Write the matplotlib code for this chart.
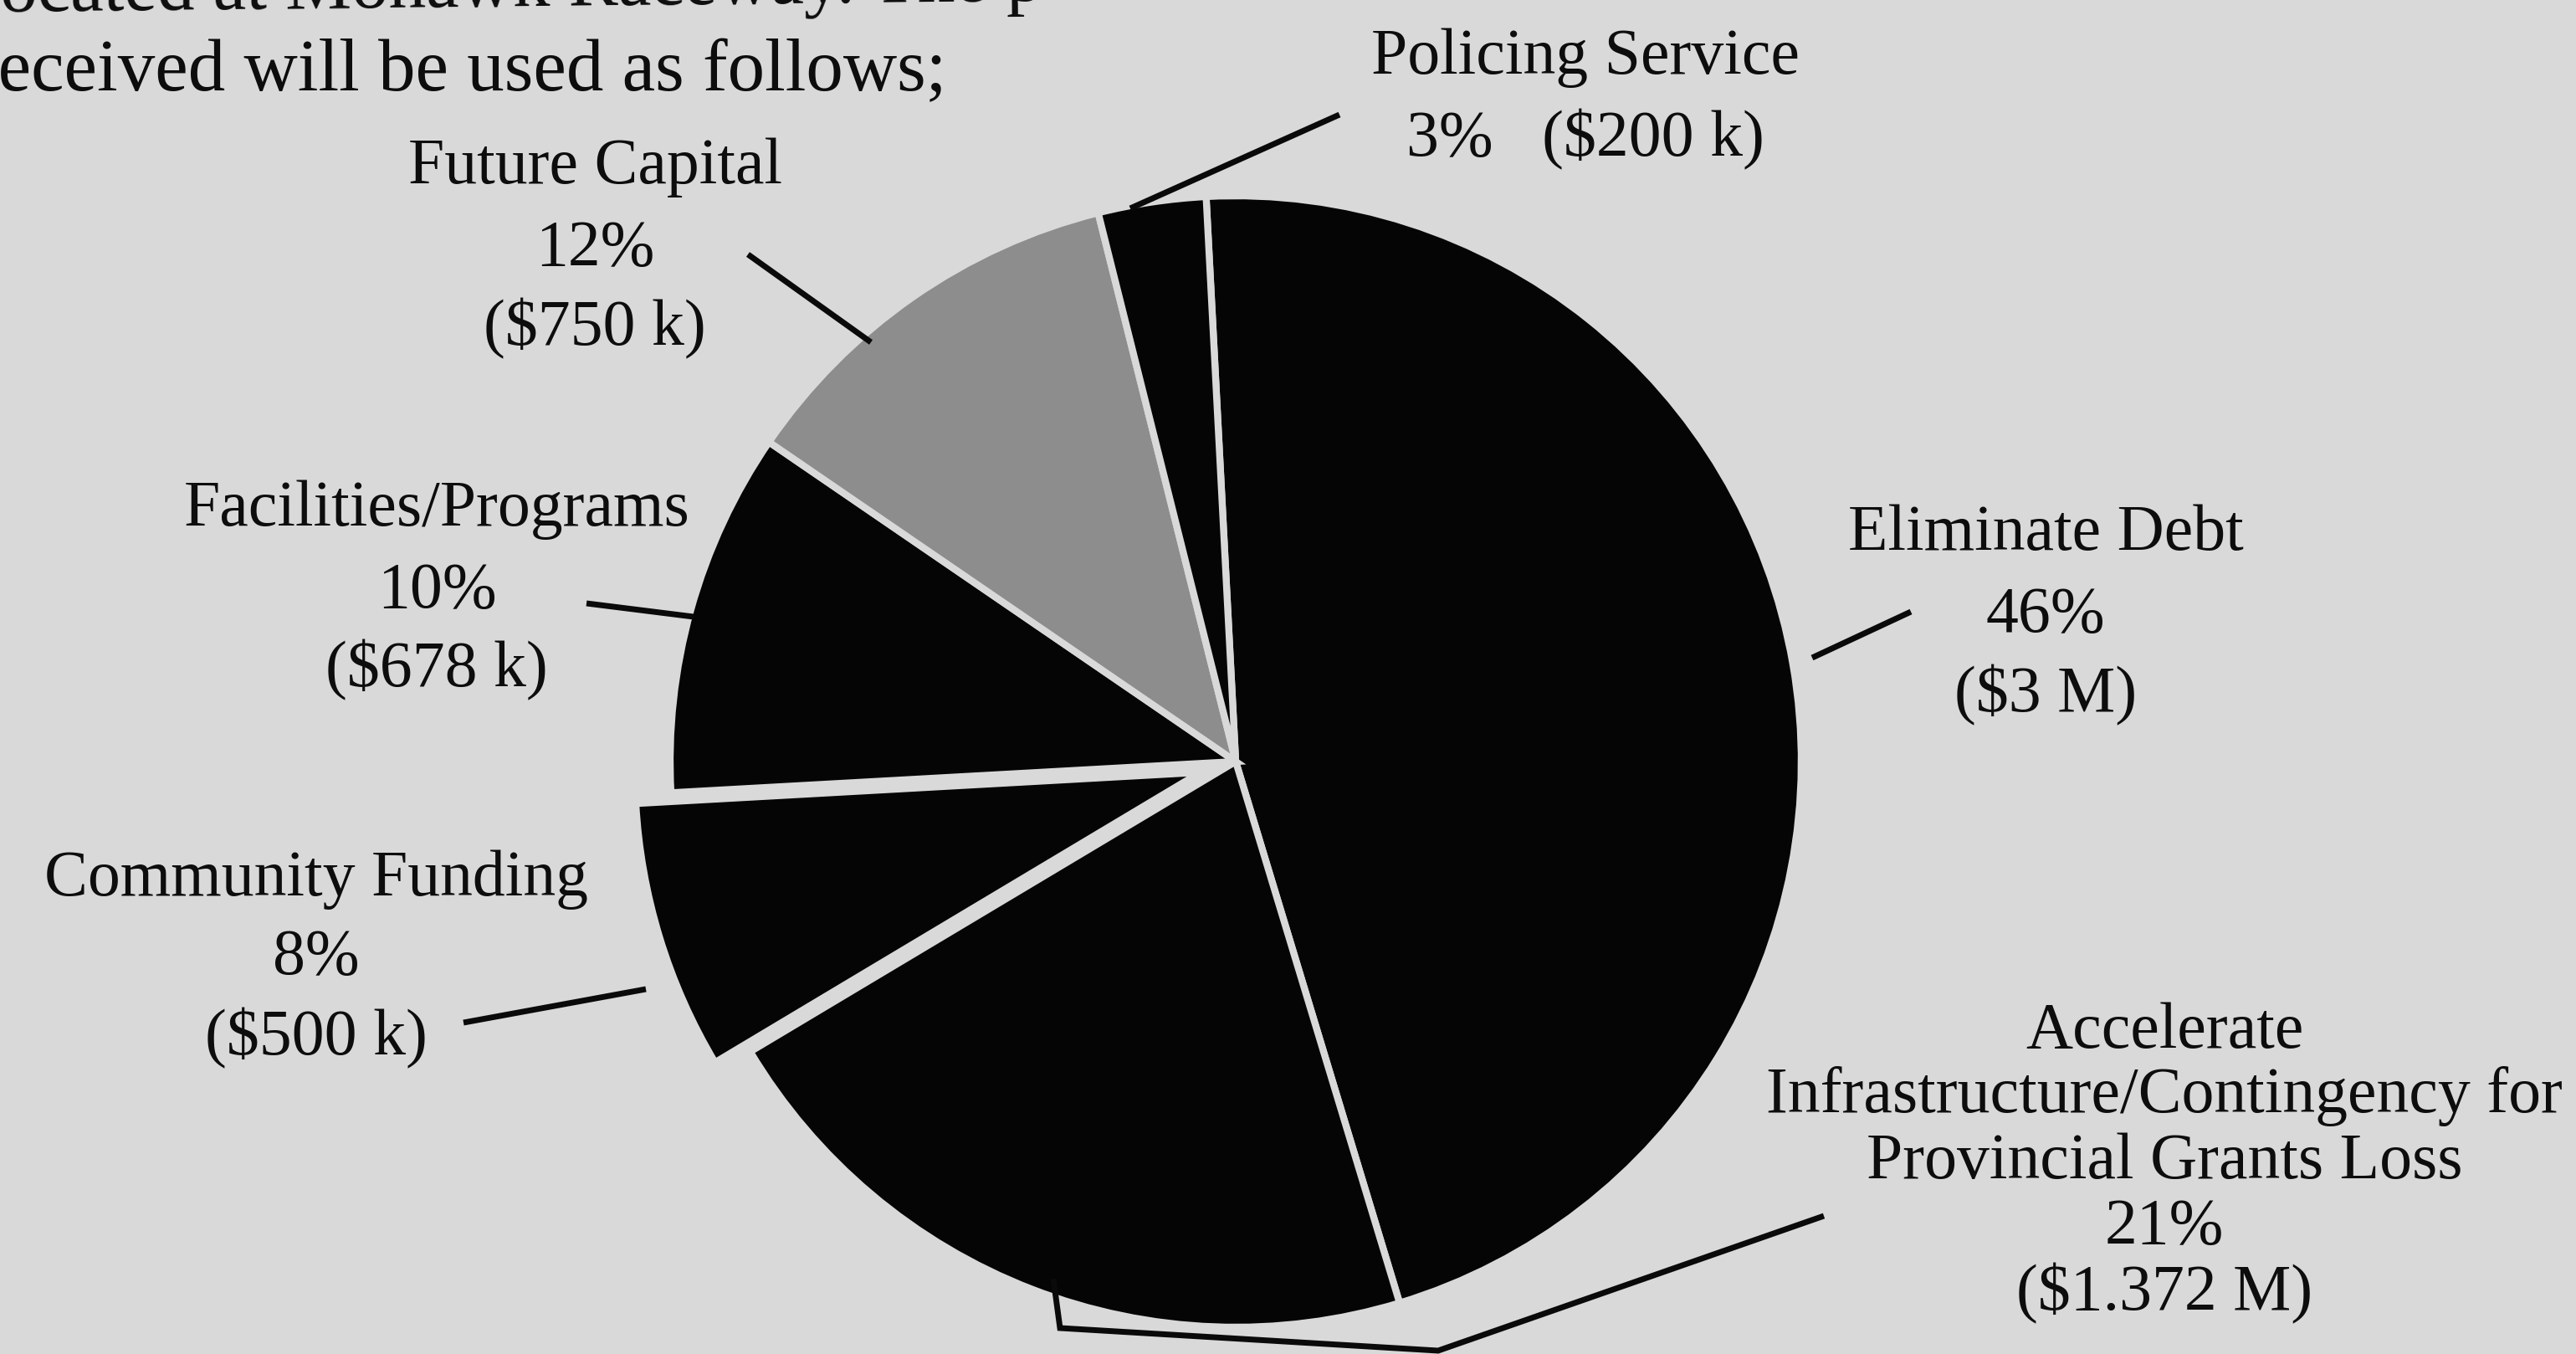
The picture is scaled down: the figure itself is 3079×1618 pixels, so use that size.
import matplotlib
matplotlib.use("Agg")
import matplotlib.pyplot as plt

W, H = 3079, 1618
BG = "#d9d9d9"

# slices, clockwise from the top (values in $k, as printed on the labels)
names = ["Eliminate Debt", "Accelerate Infrastructure/Contingency for Provincial Grants Loss",
         "Community Funding", "Facilities/Programs", "Future Capital", "Policing Service"]
amounts_k = [3000, 1372, 500, 678, 750, 200]
pcts = [46, 21, 8, 10, 12, 3]
money = ["($3 M)", "($1.372 M)", "($500 k)", "($678 k)", "($750 k)", "($200 k)"]
wedge_colors = ["#050505", "#050505", "#050505", "#050505", "#8d8d8d", "#050505"]
explode_frac = [0, 0, 0.065, 0, 0, 0]

plt.rcParams["font.family"] = ["Liberation Serif", "DejaVu Serif"]
fig = plt.figure(figsize=(W / 100, H / 100), dpi=100, facecolor=BG)
ax = fig.add_axes([0, 0, 1, 1])
ax.set_facecolor(BG)

Y = lambda y: H - y          # image rows -> axis coords
cx, cy, R = 1477, 910, 676

# pie's explode is in data units, so scale it by the radius
ax.pie(amounts_k, startangle=93, counterclock=False, colors=wedge_colors,
       explode=[e * R for e in explode_frac],
       center=(cx, Y(cy)), radius=R,
       wedgeprops=dict(edgecolor=BG, linewidth=6, antialiased=True))

ax.set_xlim(0, W); ax.set_ylim(0, H); ax.set_aspect("equal"); ax.axis("off")

fs = 56
def block(lines, x, ys, size=fs):
    for s, y in zip(lines, ys):
        ax.text(x, Y(y), s, ha="center", va="center", fontsize=size, color="#0d0d0d")

block(["Policing Service", f"{pcts[5]}%   {money[5]}"], 1895, [69, 167])
block(["Future Capital", f"{pcts[4]}%", money[4]], 711, [200, 298, 393])
block(["Facilities/Programs", f"{pcts[3]}%", money[3]], 522, [609, 707, 801])
block(["Community Funding", f"{pcts[2]}%", money[2]], 378, [1051, 1145, 1241])
block(["Eliminate Debt", f"{pcts[0]}%", money[0]], 2445, [638, 736, 831])
block(["Accelerate", "Infrastructure/Contingency for", "Provincial Grants Loss",
       f"{pcts[1]}%", money[1]], 2587, [1233, 1310, 1389, 1467, 1546])

# running article text, cropped at the frame edges
ax.text(-25, Y(14), "located at Mohawk Raceway. The p", ha="left", va="baseline",
        fontsize=64, color="#0d0d0d", rotation=0.6)
ax.text(-32, Y(108), "received will be used as follows;", ha="left", va="baseline",
        fontsize=64, color="#0d0d0d")

# leader lines
lw = 5
leaders = [
    [(1601, 137), (1351, 249)],
    [(894, 304), (1041, 409)],
    [(701, 721), (829, 737)],
    [(554, 1222), (772, 1182)],
    [(2284, 731), (2166, 786)],
    [(2180, 1453), (1719, 1614), (1267, 1587), (1259, 1528)],
]
for pts in leaders:
    ax.plot([p[0] for p in pts], [Y(p[1]) for p in pts], color="#0a0a0a", lw=lw,
            solid_capstyle="butt", solid_joinstyle="miter")

fig.savefig("out.png", dpi=100, facecolor=BG)
